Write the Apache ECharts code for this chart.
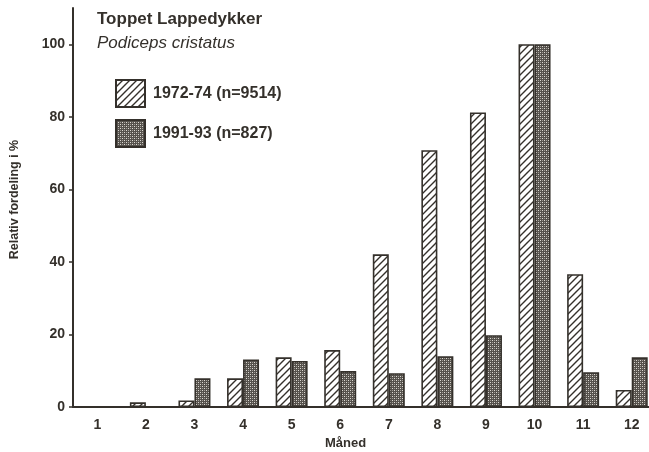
<!DOCTYPE html>
<html>
<head>
<meta charset="utf-8">
<script src="https://cdn.jsdelivr.net/npm/echarts@6/dist/echarts.min.js"></script>
<style>
  html, body { margin: 0; padding: 0; background: #fff; }
  #chart { width: 649px; height: 452px; }
</style>
</head>
<body>
<div id="chart"></div>
<script>
// Relative monthly distribution (%) of Great Crested Grebe observations
const months = ['1', '2', '3', '4', '5', '6', '7', '8', '9', '10', '11', '12'];
const period1972 = [0, 1.3, 1.8, 7.9, 13.7, 15.7, 42.1, 70.8, 81.2, 100, 36.6, 4.7];
const period1991 = [0, 0, 7.9, 13.1, 12.7, 9.9, 9.3, 14.0, 19.8, 100, 9.6, 13.7];
const seriesNames = ['1972-74 (n=9514)', '1991-93 (n=827)'];
const yTicks = [0, 20, 40, 60, 80, 100];

const ink = '#34302b';
const font = '"Liberation Sans", Arial, sans-serif';

// Diagonal hatch fill
function hatchPattern() {
  const c = document.createElement('canvas');
  const s = 7;
  c.width = s; c.height = s;
  const g = c.getContext('2d');
  g.fillStyle = '#ffffff';
  g.fillRect(0, 0, s, s);
  g.strokeStyle = ink;
  g.lineWidth = 1.4;
  g.beginPath();
  g.moveTo(-1, s + 1); g.lineTo(s + 1, -1);
  g.moveTo(-1, 1); g.lineTo(1, -1);
  g.moveTo(s - 1, s + 1); g.lineTo(s + 1, s - 1);
  g.stroke();
  return c;
}

// Fine stipple fill
function dotPattern() {
  const c = document.createElement('canvas');
  c.width = 4; c.height = 4;
  const g = c.getContext('2d');
  g.fillStyle = '#55514c';
  g.fillRect(0, 0, 4, 4);
  g.fillStyle = '#dcd9d3';
  g.fillRect(0, 0, 1, 1);
  g.fillRect(2, 2, 1, 1);
  g.fillStyle = '#a09c95';
  g.fillRect(2, 0, 1, 1);
  g.fillRect(0, 2, 1, 1);
  return c;
}

const chart = echarts.init(document.getElementById('chart'), null, { renderer: 'canvas' });

chart.setOption({
  animation: false,
  backgroundColor: '#ffffff',
  textStyle: { fontFamily: font, color: ink },
  title: {
    text: 'Toppet Lappedykker',
    subtext: 'Podiceps cristatus',
    left: 92,
    top: 6,
    itemGap: 7,
    textStyle: { fontFamily: font, fontSize: 17, fontWeight: 'bold', color: ink },
    subtextStyle: { fontFamily: font, fontSize: 17, fontStyle: 'italic', color: ink }
  },
  legend: {
    orient: 'vertical',
    left: 110,
    top: 74,
    itemWidth: 29,
    itemHeight: 27,
    itemGap: 11,
    icon: 'rect',
    textStyle: { fontFamily: font, fontSize: 16, fontWeight: 'bold', color: ink, padding: [0, 0, 0, 3] },
    data: seriesNames
  },
  grid: { left: 73, width: 583, top: 8, bottom: 45, containLabel: false, outerBoundsMode: 'none' },
  xAxis: {
    type: 'category',
    data: months,
    name: 'Måned',
    nameLocation: 'middle',
    nameGap: 28,
    nameTextStyle: { fontFamily: font, fontSize: 13, fontWeight: 'bold', color: ink, padding: [0, 38, 0, 0] },
    axisLine: { lineStyle: { color: ink, width: 2 } },
    axisTick: { alignWithLabel: true, length: 3, lineStyle: { color: ink, width: 1.5 } },
    axisLabel: { fontFamily: font, fontSize: 14, fontWeight: 'bold', color: ink, margin: 11 }
  },
  yAxis: {
    type: 'value',
    min: 0,
    max: 110,
    interval: 20,
    name: 'Relativ fordeling i %',
    nameLocation: 'middle',
    nameGap: 52,
    nameTextStyle: { fontFamily: font, fontSize: 12.5, fontWeight: 'bold', color: ink, padding: [0, 0, 0, 16] },
    splitLine: { show: false },
    axisLine: { show: true, lineStyle: { color: ink, width: 2 } },
    axisTick: { show: true, length: 4, customValues: yTicks, lineStyle: { color: ink, width: 1.5 } },
    axisLabel: { fontFamily: font, fontSize: 14, fontWeight: 'bold', color: ink, margin: 8, customValues: yTicks }
  },
  series: [
    {
      name: seriesNames[0],
      type: 'bar',
      data: period1972,
      barWidth: 16,
      barGap: '0%',
      itemStyle: {
        color: { image: hatchPattern(), repeat: 'repeat' },
        borderColor: ink,
        borderWidth: 1.6
      }
    },
    {
      name: seriesNames[1],
      type: 'bar',
      data: period1991,
      barWidth: 16,
      barGap: '0%',
      itemStyle: {
        color: { image: dotPattern(), repeat: 'repeat' },
        borderColor: ink,
        borderWidth: 1.6
      }
    }
  ]
});
</script>
</body>
</html>
